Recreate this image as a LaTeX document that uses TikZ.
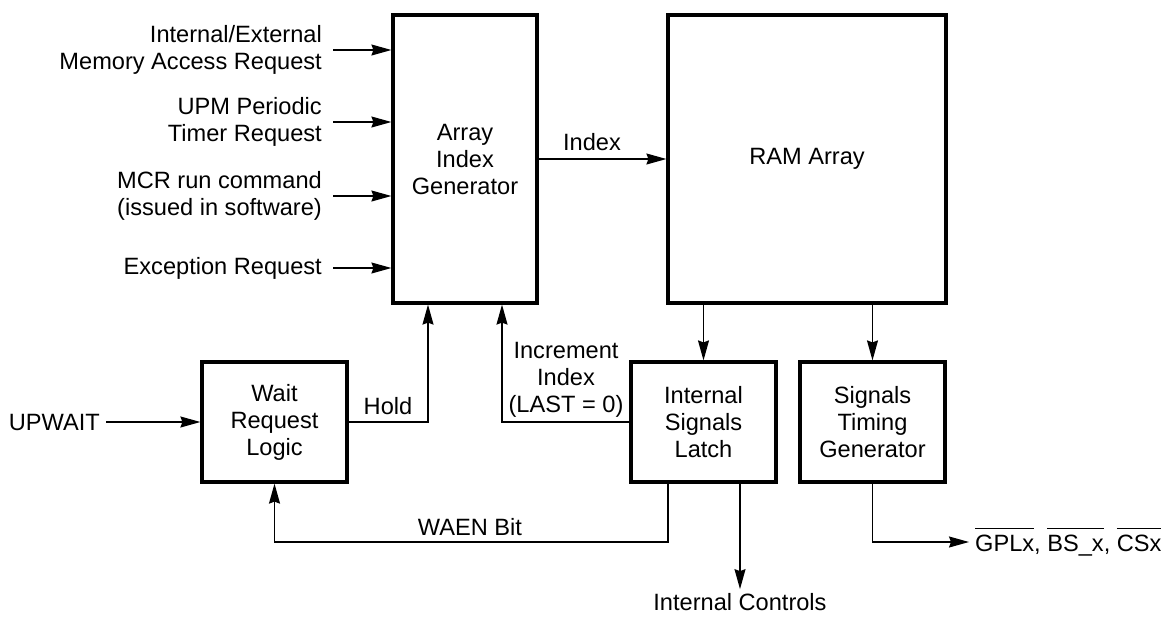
\documentclass[tikz,border=0pt]{standalone}
\usepackage{fontspec}
\setmainfont{Liberation Sans}
\usetikzlibrary{arrows.meta}
\newcommand\ovl[1]{\leavevmode\vbox{\hrule height 1.3pt\kern 5.5pt\hbox{#1}}}
\begin{document}
\begin{tikzpicture}[x=1pt,y=-1pt,
  font=\fontsize{23.6}{27}\selectfont,
  blk/.style={draw, line width=3.2pt, inner sep=0pt, align=center},
  conn/.style={line width=1.4pt},
  arr/.style={conn, -{Stealth[length=20pt,width=11pt,inset=2pt]}},
  lbl/.style={inner sep=0pt, align=center},
  inlbl/.style={inner ysep=0pt, inner xsep=11pt, anchor=east, align=right}]
\useasboundingbox (0,0) rectangle (1165,616);

% blocks
\node[blk, minimum width=144pt, minimum height=288pt] (aig) at (465,159) {Array\\Index\\Generator};
\node[blk, minimum width=278pt, minimum height=288pt] (ram) at (807,159) {RAM Array};
\node[blk, minimum width=145pt, minimum height=120pt] (wait) at (274.5,422) {Wait\\Request\\Logic};
\node[blk, minimum width=145pt, minimum height=120pt] (latch) at (703.5,422) {Internal\\Signals\\Latch};
\node[blk, minimum width=145pt, minimum height=120pt] (stg) at (872.5,422) {Signals\\Timing\\Generator};

% inputs
\node[inlbl] (in1) at (333,50) {Internal/External\\Memory Access Request};
\node[inlbl] (in2) at (333,122) {UPM Periodic\\Timer Request};
\node[inlbl] (in3) at (333,196) {MCR run command\\(issued in software)};
\node[inlbl] (in4) at (333,268) {Exception Request};
\foreach \n in {in1,in2,in3,in4}
  \draw[arr] (\n.east) -- (\n.east -| aig.west);

% index
\draw[arr] (aig.east) -- (ram.west);
\node[lbl] (idx) at (592,142) {Index};

% UPWAIT
\node[inlbl, inner xsep=6pt] (up) at (106,422) {UPWAIT};
\draw[arr] (up.east) -- (wait.west);

% hold
\coordinate (holdx) at (428,422);
\draw[arr] (wait.east) -- (holdx) -- (holdx |- aig.south);
\node[lbl] (hold) at (388,406) {Hold};

% increment
\coordinate (incx) at (502,422);
\draw[arr] (latch.west) -- (incx) -- (incx |- aig.south);
\node[lbl] (inc) at (566,380) {Increment\\Index\\(LAST = 0)};

% RAM to lower blocks
\draw[arr] (ram.south -| latch.north) -- (latch.north);
\draw[arr] (ram.south -| stg.north) -- (stg.north);

% WAEN feedback
\coordinate (wy) at (668,542);
\draw[arr] (latch.south -| wy) -- (wy) -- (wy -| wait.south) -- (wait.south);
\node[lbl] (waen) at (470,527) {WAEN Bit};

% internal controls
\node[lbl] (ic) at (740,602) {Internal Controls};
\draw[arr] (latch.south -| ic.north) -- ([yshift=4pt]ic.north);

% outputs
\node[lbl, anchor=west] (out) at (975,542) {\ovl{GPLx}, \ovl{BS\_x}, \ovl{CSx}};
\draw[arr] (stg.south) -- (stg.south |- out.west) -- ([xshift=-6pt]out.west);
\end{tikzpicture}
\end{document}
